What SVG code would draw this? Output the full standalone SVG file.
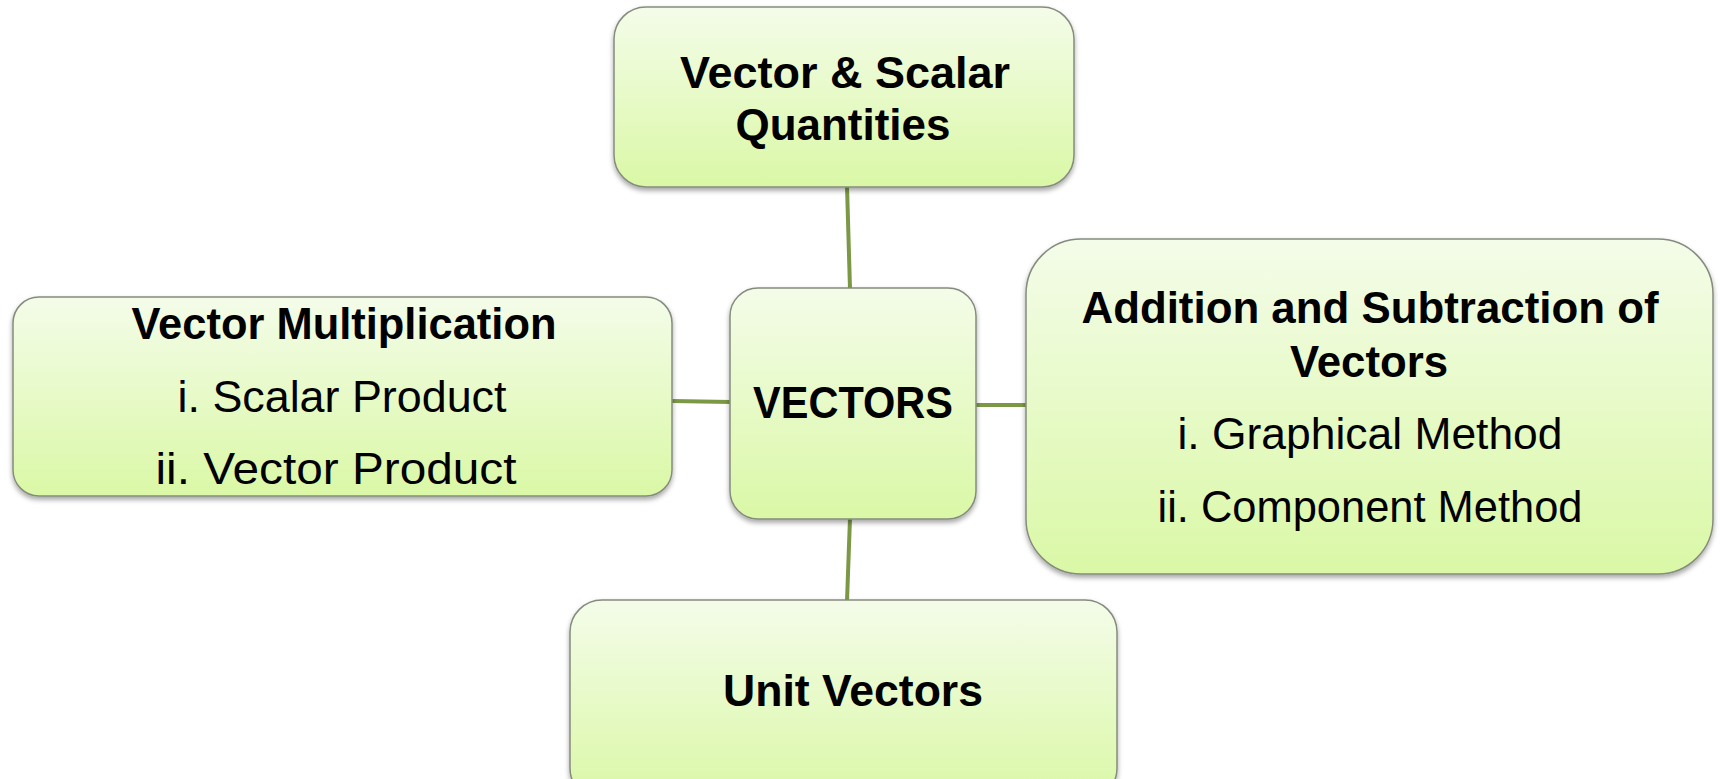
<svg xmlns="http://www.w3.org/2000/svg" width="1720" height="779" viewBox="0 0 1720 779">
<style>
.box{fill:url(#g);stroke:#858c7e;stroke-width:1.5;filter:url(#sh)}
.b{font-family:"Liberation Sans",Arial,sans-serif;font-weight:bold;font-size:44px;fill:#000;text-anchor:middle}
.r{font-family:"Liberation Sans",Arial,sans-serif;font-size:44px;fill:#000;text-anchor:middle}
.c{stroke:#7b9846;stroke-width:4;fill:none}
</style>
<defs>
<linearGradient id="g" x1="0" y1="0" x2="0" y2="1">
<stop offset="0" stop-color="#f4fce9"/>
<stop offset="1" stop-color="#daf8a6"/>
</linearGradient>
<filter id="sh" x="-5%" y="-5%" width="110%" height="115%">
<feDropShadow dx="0" dy="3" stdDeviation="2.5" flood-color="#000" flood-opacity="0.35"/>
</filter>
</defs>
<rect width="1720" height="779" fill="#fff"/>
<g id="connectors">
<line class="c" x1="847" y1="186" x2="850" y2="289"/>
<line class="c" x1="850" y1="518" x2="847" y2="601"/>
<line class="c" x1="672" y1="401" x2="731" y2="402"/>
<line class="c" x1="976" y1="405" x2="1026" y2="405"/>
</g>
<g id="node-top">
<rect class="box" x="614" y="7" width="460" height="180" rx="32"/>
<text class="b" x="845" y="88" textLength="330" lengthAdjust="spacingAndGlyphs">Vector &amp; Scalar</text>
<text class="b" x="843" y="140" textLength="215" lengthAdjust="spacingAndGlyphs">Quantities</text>
</g>
<g id="node-left">
<rect class="box" x="13" y="297" width="659" height="199" rx="26"/>
<text class="b" x="344" y="339" textLength="425" lengthAdjust="spacingAndGlyphs">Vector Multiplication</text>
<text class="r" x="342" y="412" textLength="329" lengthAdjust="spacingAndGlyphs">i. Scalar Product</text>
<text class="r" x="336" y="484" textLength="361" lengthAdjust="spacingAndGlyphs">ii. Vector Product</text>
</g>
<g id="node-center">
<rect class="box" x="730" y="288" width="246" height="231" rx="28"/>
<text class="b" x="853" y="418" textLength="200" lengthAdjust="spacingAndGlyphs">VECTORS</text>
</g>
<g id="node-right">
<rect class="box" x="1026" y="239" width="687" height="335" rx="55"/>
<text class="b" x="1370" y="323" textLength="577" lengthAdjust="spacingAndGlyphs">Addition and Subtraction of</text>
<text class="b" x="1369" y="377" textLength="158" lengthAdjust="spacingAndGlyphs">Vectors</text>
<text class="r" x="1370" y="449" textLength="385" lengthAdjust="spacingAndGlyphs">i. Graphical Method</text>
<text class="r" x="1370" y="522" textLength="425" lengthAdjust="spacingAndGlyphs">ii. Component Method</text>
</g>
<g id="node-bottom">
<rect class="box" x="570" y="600" width="547" height="200" rx="32"/>
<text class="b" x="853" y="706" textLength="260" lengthAdjust="spacingAndGlyphs">Unit Vectors</text>
</g>
</svg>
